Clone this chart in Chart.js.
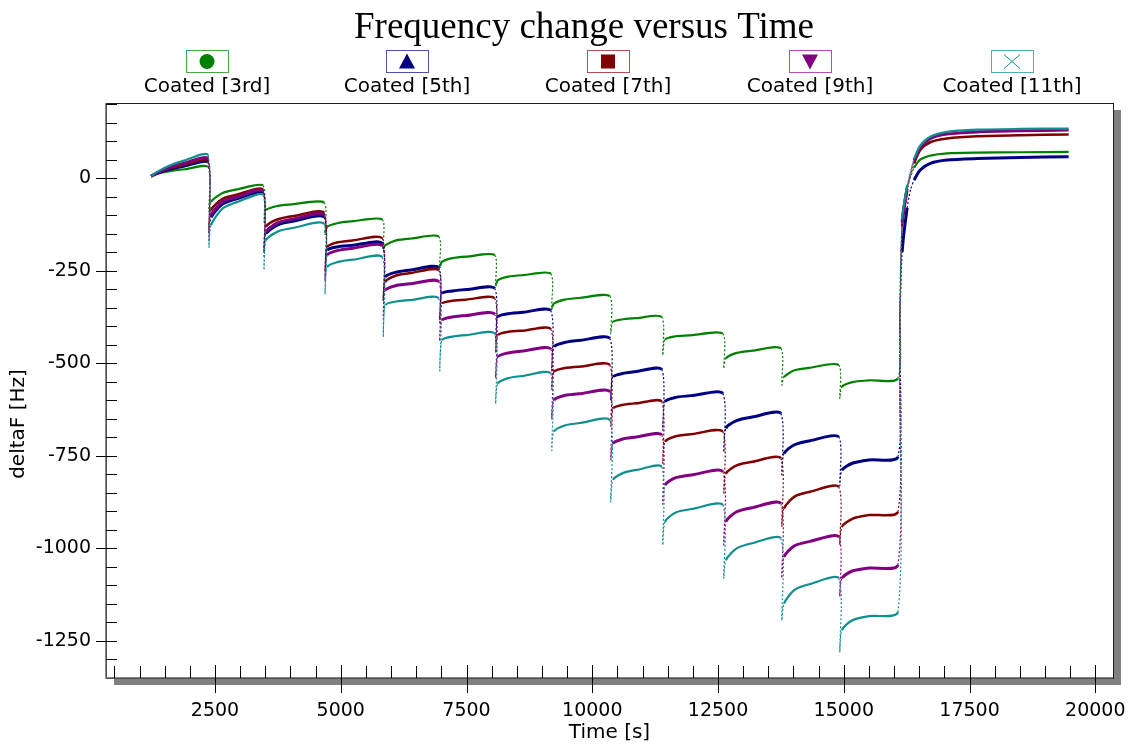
<!DOCTYPE html>
<html>
<head>
<meta charset="utf-8">
<script src="https://cdn.jsdelivr.net/npm/chart.js@4.4.1/dist/chart.umd.min.js"></script>
<style>
html,body{margin:0;padding:0;background:#fff;}
canvas{display:block;}
</style>
</head>
<body>
<canvas id="c" width="1128" height="744"></canvas>
<script>
// ---------- DATA ----------
const chartTitle = "Frequency change versus Time";
const xTitle = "Time [s]";
const yTitle = "deltaF [Hz]";
const seriesNames = ["Coated [3rd]", "Coated [5th]", "Coated [7th]", "Coated [9th]", "Coated [11th]"];
const xTicks = [2500, 5000, 7500, 10000, 12500, 15000, 17500, 20000];
const yTicks = [-1250, -1000, -750, -500, -250, 0];

const time = [
  1228,1350,1600,1900,2360,
  2380,2420,2650,2950,3455,
  3475,3515,3750,4070,4668,
  4688,4730,4950,5250,5825,
  5845,5885,6100,6400,6948,
  6968,7010,7220,7500,8060,
  8080,8120,8330,8630,9175,
  9195,9235,9450,9770,10348,
  10368,10410,10620,10880,11382,
  11402,11445,11660,12000,12595,
  12615,12655,12870,13180,13748,
  13768,13810,14020,14330,14900,
  14921,14960,15170,15500,16075,
  16110,16160,16260,16330,16400,16520,16720,17050,17650,18500,19470
];
const third = [
  5,12,19,24,30,
  -90,-64,-40,-30,-20,
  -118,-86,-75,-70,-66,
  -150,-131,-121,-116,-112,
  -189,-181,-168,-163,-158,
  -240,-226,-216,-212,-208,
  -289,-276,-266,-262,-258,
  -351,-339,-328,-323,-319,
  -420,-388,-381,-378,-375,
  -478,-436,-427,-424,-420,
  -514,-487,-472,-466,-460,
  -559,-537,-519,-512,-505,
  -595,-564,-551,-546,-541,
  -350,-120,-20,4,28,50,61,67,69,70,71
];
const fifth = [
  5,13,24,33,42,
  -150,-106,-70,-55,-40,
  -200,-150,-126,-116,-106,
  -270,-195,-185,-181,-177,
  -330,-267,-254,-248,-242,
  -380,-312,-305,-301,-298,
  -440,-375,-366,-362,-358,
  -520,-456,-444,-438,-433,
  -600,-537,-527,-522,-517,
  -680,-604,-592,-587,-582,
  -740,-676,-655,-645,-636,
  -800,-744,-720,-709,-699,
  -830,-789,-770,-761,-753,
  -420,-200,-80,-30,-5,22,40,49,53,56,58
];
const seventh = [
  5,14,27,37,47,
  -140,-86,-56,-44,-31,
  -190,-131,-111,-102,-94,
  -250,-186,-173,-168,-163,
  -330,-280,-263,-256,-249,
  -390,-339,-331,-328,-325,
  -470,-424,-415,-412,-408,
  -570,-523,-513,-509,-505,
  -670,-622,-612,-608,-604,
  -770,-712,-697,-691,-685,
  -850,-798,-776,-766,-757,
  -940,-892,-860,-847,-834,
  -990,-942,-920,-910,-901,
  -480,-130,-35,8,40,76,97,107,113,116,118
];
const ninth = [
  5,15,29,41,52,
  -167,-100,-64,-50,-35,
  -210,-145,-120,-110,-100,
  -280,-208,-195,-189,-184,
  -380,-303,-290,-285,-280,
  -440,-384,-375,-371,-368,
  -540,-483,-472,-467,-462,
  -650,-600,-587,-582,-577,
  -760,-717,-704,-699,-694,
  -880,-829,-809,-801,-793,
  -990,-928,-901,-890,-879,
  -1080,-1023,-993,-981,-969,
  -1130,-1081,-1061,-1053,-1045,
  -520,-120,-28,15,48,84,107,119,125,128,130
];
const eleventh = [
  5,17,34,48,62,
  -186,-127,-82,-64,-46,
  -244,-168,-144,-134,-124,
  -312,-240,-226,-220,-214,
  -429,-343,-333,-329,-325,
  -520,-438,-428,-424,-420,
  -609,-555,-540,-534,-528,
  -735,-685,-668,-661,-654,
  -874,-815,-796,-788,-780,
  -991,-928,-903,-893,-883,
  -1081,-1032,-1000,-986,-973,
  -1194,-1149,-1112,-1096,-1081,
  -1280,-1221,-1194,-1183,-1172,
  -500,-110,-22,20,52,88,112,125,131,133,134
];
const seriesValues = [third, fifth, seventh, ninth, eleventh];

// ---------- STYLE ----------
const lineColors = ['#008000', '#000080', '#800000', '#800080', '#108f8f'];
const boxColors  = ['#48a848', '#5050b0', '#b05050', '#b050b0', '#50b0b0'];
const markers    = ['circle', 'triangle', 'square', 'triangleDown', 'cross'];
const lineWidths = [2.2, 3, 2.5, 3, 2.2];
const drawOrder  = [5, 4, 3, 2, 1];
const legendCenters = [207, 407, 608, 810, 1012];

const isJump = c => Math.abs(c.p1.x - c.p0.x) < 4 && Math.abs(c.p1.y - c.p0.y) > 8;

const datasets = seriesValues.map((vals, s) => ({
  label: seriesNames[s],
  data: vals.map((v, i) => ({x: time[i], y: v})),
  borderColor: lineColors[s],
  backgroundColor: lineColors[s],
  borderWidth: lineWidths[s],
  pointRadius: 0,
  tension: 0.25,
  order: drawOrder[s],
  segment: {
    borderDash: c => isJump(c) ? [2, 2] : undefined,
    borderWidth: c => isJump(c) ? 1.2 : undefined
  }
}));

function drawMarker(ctx, type, x, y, color) {
  ctx.save();
  ctx.fillStyle = color; ctx.strokeStyle = color;
  ctx.beginPath();
  if (type === 'circle') {
    ctx.arc(x, y, 7.5, 0, Math.PI * 2); ctx.fill();
  } else if (type === 'triangle') {
    ctx.moveTo(x, y - 8); ctx.lineTo(x + 8, y + 7); ctx.lineTo(x - 8, y + 7); ctx.closePath(); ctx.fill();
  } else if (type === 'square') {
    ctx.fillRect(x - 7, y - 7, 14, 14);
  } else if (type === 'triangleDown') {
    ctx.moveTo(x - 8, y - 7); ctx.lineTo(x + 8, y - 7); ctx.lineTo(x, y + 8); ctx.closePath(); ctx.fill();
  } else if (type === 'cross') {
    ctx.lineWidth = 1;
    ctx.moveTo(x - 8, y - 7); ctx.lineTo(x + 8, y + 7);
    ctx.moveTo(x + 8, y - 7); ctx.lineTo(x - 8, y + 7); ctx.stroke();
  }
  ctx.restore();
}

const framePlugin = {
  id: 'frame',
  beforeDraw(chart) {
    const {ctx, chartArea: a} = chart;
    ctx.save();
    ctx.fillStyle = '#fff';
    ctx.fillRect(0, 0, chart.width, chart.height);
    ctx.fillStyle = '#808080';
    ctx.fillRect(a.left + 8, a.top + 7, a.right - a.left, a.bottom - a.top);
    ctx.fillStyle = '#fff';
    ctx.fillRect(a.left, a.top, a.right - a.left, a.bottom - a.top);
    ctx.restore();
  },
  afterDraw(chart) {
    const {ctx, chartArea: a, scales} = chart;
    const xs = scales.x, ys = scales.y;
    ctx.save();
    ctx.strokeStyle = '#202020';
    ctx.lineWidth = 1;
    ctx.strokeRect(Math.round(a.left) + 0.5, Math.round(a.top) + 0.5, Math.round(a.right - a.left), Math.round(a.bottom - a.top));
    ctx.strokeStyle = '#606060';
    ctx.lineWidth = 1.5;
    ctx.beginPath();
    ctx.moveTo(a.left, a.top); ctx.lineTo(a.left, a.bottom); ctx.lineTo(a.right, a.bottom);
    ctx.stroke();
    ctx.strokeStyle = '#000';
    ctx.lineWidth = 1;
    ctx.beginPath();
    for (let v = 500; v <= 20000; v += 500) {
      const px = Math.round(xs.getPixelForValue(v)) + 0.5;
      if (xTicks.includes(v)) { ctx.moveTo(px, a.bottom - 13); ctx.lineTo(px, a.bottom + 15); }
      else { ctx.moveTo(px, a.bottom - 12); ctx.lineTo(px, a.bottom); }
    }
    for (let v = -1300; v <= 200; v += 50) {
      const py = Math.round(ys.getPixelForValue(v)) + 0.5;
      if (yTicks.includes(v)) { ctx.moveTo(a.left - 10, py); ctx.lineTo(a.left + 11, py); }
      else { ctx.moveTo(a.left, py); ctx.lineTo(a.left + 11, py); }
    }
    ctx.stroke();
    ctx.fillStyle = '#000';
    ctx.font = '37px "Liberation Serif", "Times New Roman", serif';
    ctx.textAlign = 'center';
    ctx.textBaseline = 'alphabetic';
    ctx.fillText(chartTitle, 584, 38);
    ctx.font = '20px "DejaVu Sans", sans-serif';
    ctx.textBaseline = 'middle';
    ctx.fillText(xTitle, (a.left + a.right) / 2, 733);
    ctx.save();
    ctx.translate(19, 424);
    ctx.rotate(-Math.PI / 2);
    ctx.fillText(yTitle, 0, 0);
    ctx.restore();
    seriesNames.forEach((name, i) => {
      const cx = legendCenters[i];
      ctx.strokeStyle = boxColors[i];
      ctx.lineWidth = 1;
      ctx.strokeRect(cx - 21 + 0.5, 50.5, 42, 22);
      drawMarker(ctx, markers[i], cx, 61.5, lineColors[i]);
      ctx.fillStyle = '#000';
      ctx.font = '20px "DejaVu Sans", sans-serif';
      ctx.textAlign = 'center';
      ctx.textBaseline = 'middle';
      ctx.fillText(name, cx, 87);
    });
    ctx.restore();
  }
};

new Chart(document.getElementById('c'), {
  type: 'line',
  data: { datasets },
  options: {
    responsive: false,
    animation: false,
    devicePixelRatio: 1,
    layout: { padding: { top: 103, right: 15, left: 0, bottom: 0 } },
    plugins: { legend: { display: false }, title: { display: false }, tooltip: { enabled: false } },
    scales: {
      x: {
        type: 'linear', min: 333, max: 20352,
        grid: { display: false, drawTicks: false },
        border: { display: false },
        afterBuildTicks: s => { s.ticks = xTicks.map(v => ({value: v})); },
        afterFit: s => { s.height = 66; s.paddingLeft = 0; s.paddingRight = 0; },
        ticks: { color: '#000', padding: 22, maxRotation: 0, autoSkip: false,
          font: { family: '"DejaVu Sans", sans-serif', size: 19 },
          callback: v => String(v) }
      },
      y: {
        type: 'linear', min: -1350, max: 203,
        grid: { display: false, drawTicks: false },
        border: { display: false },
        afterBuildTicks: s => { s.ticks = yTicks.map(v => ({value: v})); },
        afterFit: s => { s.width = 106; s.paddingTop = 0; s.paddingBottom = 0; },
        ticks: { color: '#000', padding: 15, autoSkip: false,
          font: { family: '"DejaVu Sans", sans-serif', size: 19 },
          callback: v => String(v) }
      }
    }
  },
  plugins: [framePlugin]
});
</script>
</body>
</html>
